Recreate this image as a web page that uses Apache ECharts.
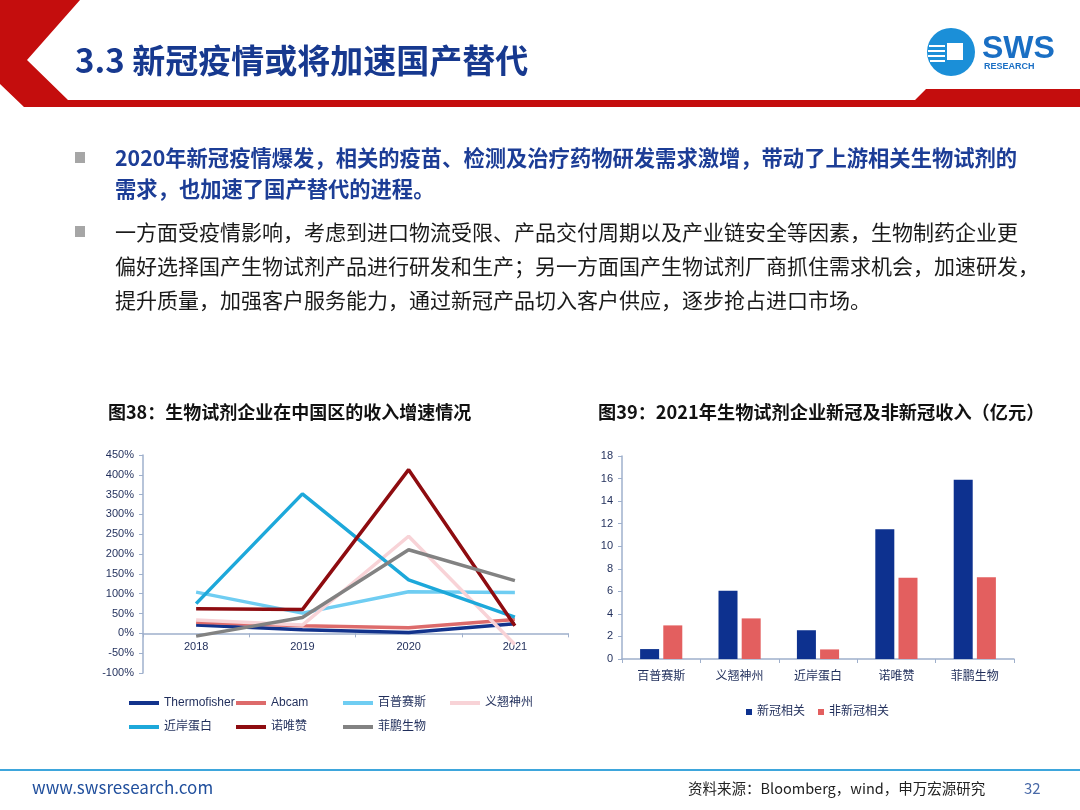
<!DOCTYPE html>
<html>
<head>
<meta charset="utf-8">
<script src="https://cdn.jsdelivr.net/npm/echarts@6/dist/echarts.min.js"></script>
<style>
  html, body { margin: 0; padding: 0; background: #fff; }
  #main { width: 1080px; height: 810px; }
</style>
</head>
<body>
<div id="main"></div>
<script>
var chartDom = document.getElementById('main');
var myChart = echarts.init(chartDom, null, { renderer: 'canvas' });

// 图38 data (growth, %)
var years = ['2018', '2019', '2020', '2021'];
var thermofisher = [21, 9, 2, 24];
var abcam = [28, 19, 14, 35];
var baipu = [104, 51, 105, 103];
var yiqiao = [34, 21, 245, -28];
var jinan = [75, 352, 135, 41];
var nuoweizan = [62, 60, 413, 19];
var feipeng = [-7, 40, 211, 133];

// 图39 data (亿元)
var companies = ['百普赛斯', '义翘神州', '近岸蛋白', '诺唯赞', '菲鹏生物'];
var covidRev = [0.88, 6.05, 2.55, 11.5, 15.9];
var nonCovidRev = [2.98, 3.6, 0.85, 7.2, 7.25];

var FONT = '"Noto Sans CJK SC", "Microsoft YaHei", sans-serif';
var CHART_FONT = 'Arial, "Liberation Sans", "Noto Sans CJK SC", sans-serif';
var NAVY_TXT = '#1f2d5a';
var AXIS_COL = '#9fb0cc';

// y range of 图38, used to lift the category axis onto the 0% line
var growthMin = -100;
var growthMax = 450;
var lineGridHeight = 218;

function txt(text, x, y, size, color, weight, family) {
  return {
    type: 'text',
    style: {
      text: text, x: x, y: y,
      font: (weight || 'normal') + ' ' + size + 'px ' + (family || FONT),
      fill: color,
      verticalAlign: 'middle', textVerticalAlign: 'middle'
    }
  };
}

var lineNames = ['Thermofisher', 'Abcam', '百普赛斯', '义翘神州', '近岸蛋白', '诺唯赞', '菲鹏生物'];
var lineData = [thermofisher, abcam, baipu, yiqiao, jinan, nuoweizan, feipeng];
var lineColors = ['#12338c', '#dd6b6b', '#6fcdf2', '#f8d3d7', '#1da8da', '#8e0c10', '#828282'];

var lineSeries = lineNames.map(function (n, i) {
  return {
    name: n,
    type: 'line',
    xAxisIndex: 0,
    yAxisIndex: 0,
    data: lineData[i],
    symbol: 'none',
    color: lineColors[i],
    lineStyle: { width: 3.5, color: lineColors[i] }
  };
});

function colLegend(names, left) {
  return {
    data: names,
    orient: 'vertical',
    left: left,
    top: 691,
    itemWidth: 30,
    itemHeight: 4,
    itemGap: 10,
    icon: 'rect',
    textStyle: { fontSize: 12, lineHeight: 14, color: NAVY_TXT, fontFamily: CHART_FONT }
  };
}

var option = {
  animation: false,
  backgroundColor: '#ffffff',
  textStyle: { fontFamily: CHART_FONT },
  graphic: [
    // red header chevron
    {
      type: 'polygon',
      shape: { points: [[0, 0], [80, 0], [27, 60], [68, 100], [915, 100], [926, 89], [1080, 89], [1080, 107], [24, 107], [0, 84]] },
      style: { fill: '#c40d0d' }
    },
    txt('3.3 新冠疫情或将加速国产替代', 75, 60, 33, '#17398f', 'bold'),
    // logo
    { type: 'circle', shape: { cx: 951, cy: 52, r: 24 }, style: { fill: '#1b8fd8' } },
    { type: 'rect', shape: { x: 947, y: 43, width: 16, height: 17 }, style: { fill: '#ffffff' } },
    { type: 'rect', shape: { x: 929, y: 45, width: 16, height: 2 }, style: { fill: '#ffffff' } },
    { type: 'rect', shape: { x: 928, y: 50, width: 17, height: 2 }, style: { fill: '#ffffff' } },
    { type: 'rect', shape: { x: 928, y: 55, width: 17, height: 2 }, style: { fill: '#ffffff' } },
    { type: 'rect', shape: { x: 930, y: 60, width: 15, height: 2 }, style: { fill: '#ffffff' } },
    txt('SWS', 982, 49, 32, '#1a6fc4', 'bold', CHART_FONT),
    txt('RESEARCH', 984, 67, 9, '#1a6fc4', 'bold', CHART_FONT),
    // bullets
    { type: 'rect', shape: { x: 75, y: 152, width: 10, height: 11 }, style: { fill: '#a6a6a6' } },
    { type: 'rect', shape: { x: 75, y: 226, width: 10, height: 11 }, style: { fill: '#a6a6a6' } },
    txt('2020年新冠疫情爆发，相关的疫苗、检测及治疗药物研发需求激增，带动了上游相关生物试剂的', 115, 158, 21.3, '#1c3d96', 'bold'),
    txt('需求，也加速了国产替代的进程。', 115, 189, 21.3, '#1c3d96', 'bold'),
    txt('一方面受疫情影响，考虑到进口物流受限、产品交付周期以及产业链安全等因素，生物制药企业更', 115, 232, 21, '#1a1a1a'),
    txt('偏好选择国产生物试剂产品进行研发和生产；另一方面国产生物试剂厂商抓住需求机会，加速研发，', 115, 266, 21, '#1a1a1a'),
    txt('提升质量，加强客户服务能力，通过新冠产品切入客户供应，逐步抢占进口市场。', 115, 300, 21, '#1a1a1a'),
    // chart titles
    txt('图38：生物试剂企业在中国区的收入增速情况', 108, 412, 18, '#111111', 'bold'),
    txt('图39：2021年生物试剂企业新冠及非新冠收入（亿元）', 598, 412, 18.2, '#111111', 'bold'),
    // footer
    { type: 'rect', shape: { x: 0, y: 769, width: 1080, height: 2 }, style: { fill: '#3ea6dc' } },
    txt('www.swsresearch.com', 32, 788, 17, '#1f4e9c'),
    txt('资料来源：Bloomberg，wind，申万宏源研究', 688, 788, 14.5, '#222222'),
    txt('32', 1024, 788, 15, '#4a6aa8')
  ],
  legend: [
    colLegend(['Thermofisher', '近岸蛋白'], 124),
    colLegend(['Abcam', '诺唯赞'], 231),
    colLegend(['百普赛斯', '菲鹏生物'], 338),
    colLegend(['义翘神州'], 445),
    {
      data: ['新冠相关', '非新冠相关'],
      left: 741,
      top: 700,
      itemWidth: 6,
      itemHeight: 6,
      itemGap: 13,
      icon: 'rect',
      textStyle: { fontSize: 12, lineHeight: 14, color: NAVY_TXT, fontFamily: CHART_FONT }
    }
  ],
  grid: [
    { left: 143, top: 455, width: 425, height: lineGridHeight },
    { left: 622, top: 456, width: 392, height: 203 }
  ],
  xAxis: [
    {
      type: 'category',
      gridIndex: 0,
      data: years,
      boundaryGap: true,
      position: 'bottom',
      offset: -lineGridHeight * (0 - growthMin) / (growthMax - growthMin),
      axisLine: { onZero: false, lineStyle: { color: AXIS_COL, width: 1.5 } },
      axisTick: { show: true, length: 4, lineStyle: { color: AXIS_COL } },
      axisLabel: { fontSize: 11, color: NAVY_TXT, margin: 8 }
    },
    {
      type: 'category',
      gridIndex: 1,
      data: companies,
      boundaryGap: true,
      axisLine: { lineStyle: { color: AXIS_COL, width: 1.5 } },
      axisTick: { show: true, length: 4, lineStyle: { color: AXIS_COL } },
      axisLabel: { fontSize: 12, color: NAVY_TXT, margin: 12 }
    }
  ],
  yAxis: [
    {
      type: 'value',
      gridIndex: 0,
      min: growthMin,
      max: growthMax,
      interval: 50,
      axisLine: { show: true, lineStyle: { color: AXIS_COL, width: 1.5 } },
      axisTick: { show: true, length: 4, lineStyle: { color: AXIS_COL } },
      splitLine: { show: false },
      axisLabel: { fontSize: 11, color: NAVY_TXT, margin: 9, formatter: '{value}%' }
    },
    {
      type: 'value',
      gridIndex: 1,
      min: 0,
      max: 18,
      interval: 2,
      axisLine: { show: true, lineStyle: { color: AXIS_COL, width: 1.5 } },
      axisTick: { show: true, length: 4, lineStyle: { color: AXIS_COL } },
      splitLine: { show: false },
      axisLabel: { fontSize: 11, color: NAVY_TXT, margin: 9 }
    }
  ],
  series: lineSeries.concat([
    {
      name: '新冠相关',
      type: 'bar',
      xAxisIndex: 1,
      yAxisIndex: 1,
      data: covidRev,
      barWidth: 19,
      barGap: '22%',
      color: '#0d318f',
      itemStyle: { color: '#0d318f' }
    },
    {
      name: '非新冠相关',
      type: 'bar',
      xAxisIndex: 1,
      yAxisIndex: 1,
      data: nonCovidRev,
      barWidth: 19,
      color: '#e35f5f',
      itemStyle: { color: '#e35f5f' }
    }
  ])
};

myChart.setOption(option);
</script>
</body>
</html>
